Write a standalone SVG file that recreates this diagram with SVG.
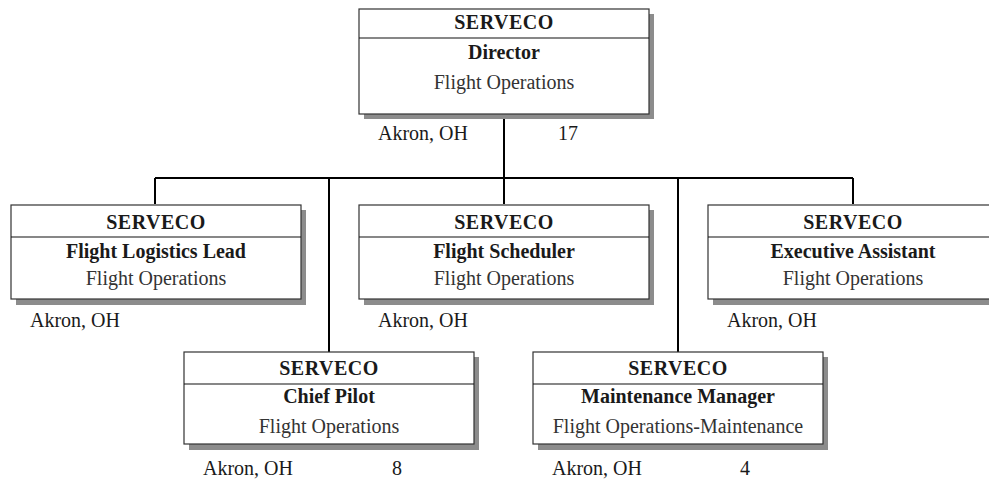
<svg xmlns="http://www.w3.org/2000/svg" width="989" height="480" viewBox="0 0 989 480">
  <style>
    .shadow { fill: #8c8c8c; }
    .box { fill: #ffffff; stroke: #333333; stroke-width: 1.2; }
    .sep { stroke: #111111; stroke-width: 1.2; }
    .conn { fill: none; stroke: #000000; stroke-width: 2; }
    text { font-family: "Liberation Serif", "Times New Roman", serif; font-size: 20px; fill: #1a1a1a; }
    .org { font-weight: bold; text-anchor: middle; letter-spacing: 0.5px; }
    .title { font-weight: bold; text-anchor: middle; }
    .dept { text-anchor: middle; fill: #333333; }
    .loc { fill: #1a1a1a; }
    .count { text-anchor: middle; }
  </style>

  <g id="connectors">
    <path class="conn" d="M504 114 V178 M155 178 H853 M155 178 V204 M504 178 V204 M853 178 V204 M329 178 V352 M678 178 V352"/>
  </g>

  <g id="director">
    <rect class="shadow" x="364" y="14" width="290" height="105"/>
    <rect class="box" x="359" y="9" width="290" height="105"/>
    <line class="sep" x1="359" y1="38" x2="649" y2="38"/>
    <text class="org" x="504" y="29">SERVECO</text>
    <text class="title" x="504" y="59">Director</text>
    <text class="dept" x="504" y="89">Flight Operations</text>
    <text class="loc" x="378" y="140">Akron, OH</text>
    <text class="count" x="568" y="140">17</text>
  </g>

  <g id="logistics-lead">
    <rect class="shadow" x="16" y="210" width="290" height="95"/>
    <rect class="box" x="11" y="205" width="290" height="94"/>
    <line class="sep" x1="11" y1="237" x2="301" y2="237"/>
    <text class="org" x="156" y="229">SERVECO</text>
    <text class="title" x="156" y="258">Flight Logistics Lead</text>
    <text class="dept" x="156" y="285">Flight Operations</text>
    <text class="loc" x="30" y="327">Akron, OH</text>
  </g>

  <g id="scheduler">
    <rect class="shadow" x="364" y="210" width="290" height="95"/>
    <rect class="box" x="359" y="205" width="290" height="94"/>
    <line class="sep" x1="359" y1="237" x2="649" y2="237"/>
    <text class="org" x="504" y="229">SERVECO</text>
    <text class="title" x="504" y="258">Flight Scheduler</text>
    <text class="dept" x="504" y="285">Flight Operations</text>
    <text class="loc" x="378" y="327">Akron, OH</text>
  </g>

  <g id="executive-assistant">
    <rect class="shadow" x="713" y="210" width="290" height="95"/>
    <rect class="box" x="708" y="205" width="290" height="94"/>
    <line class="sep" x1="708" y1="237" x2="998" y2="237"/>
    <text class="org" x="853" y="229">SERVECO</text>
    <text class="title" x="853" y="258">Executive Assistant</text>
    <text class="dept" x="853" y="285">Flight Operations</text>
    <text class="loc" x="727" y="327">Akron, OH</text>
  </g>

  <g id="chief-pilot">
    <rect class="shadow" x="189" y="357" width="290" height="93"/>
    <rect class="box" x="184" y="352" width="290" height="92"/>
    <line class="sep" x1="184" y1="384" x2="474" y2="384"/>
    <text class="org" x="329" y="375">SERVECO</text>
    <text class="title" x="329" y="403">Chief Pilot</text>
    <text class="dept" x="329" y="433">Flight Operations</text>
    <text class="loc" x="203" y="475">Akron, OH</text>
    <text class="count" x="397" y="475">8</text>
  </g>

  <g id="maintenance-manager">
    <rect class="shadow" x="538" y="357" width="290" height="93"/>
    <rect class="box" x="533" y="352" width="290" height="92"/>
    <line class="sep" x1="533" y1="384" x2="823" y2="384"/>
    <text class="org" x="678" y="375">SERVECO</text>
    <text class="title" x="678" y="403">Maintenance Manager</text>
    <text class="dept" x="678" y="433">Flight Operations-Maintenance</text>
    <text class="loc" x="552" y="475">Akron, OH</text>
    <text class="count" x="745" y="475">4</text>
  </g>
</svg>
